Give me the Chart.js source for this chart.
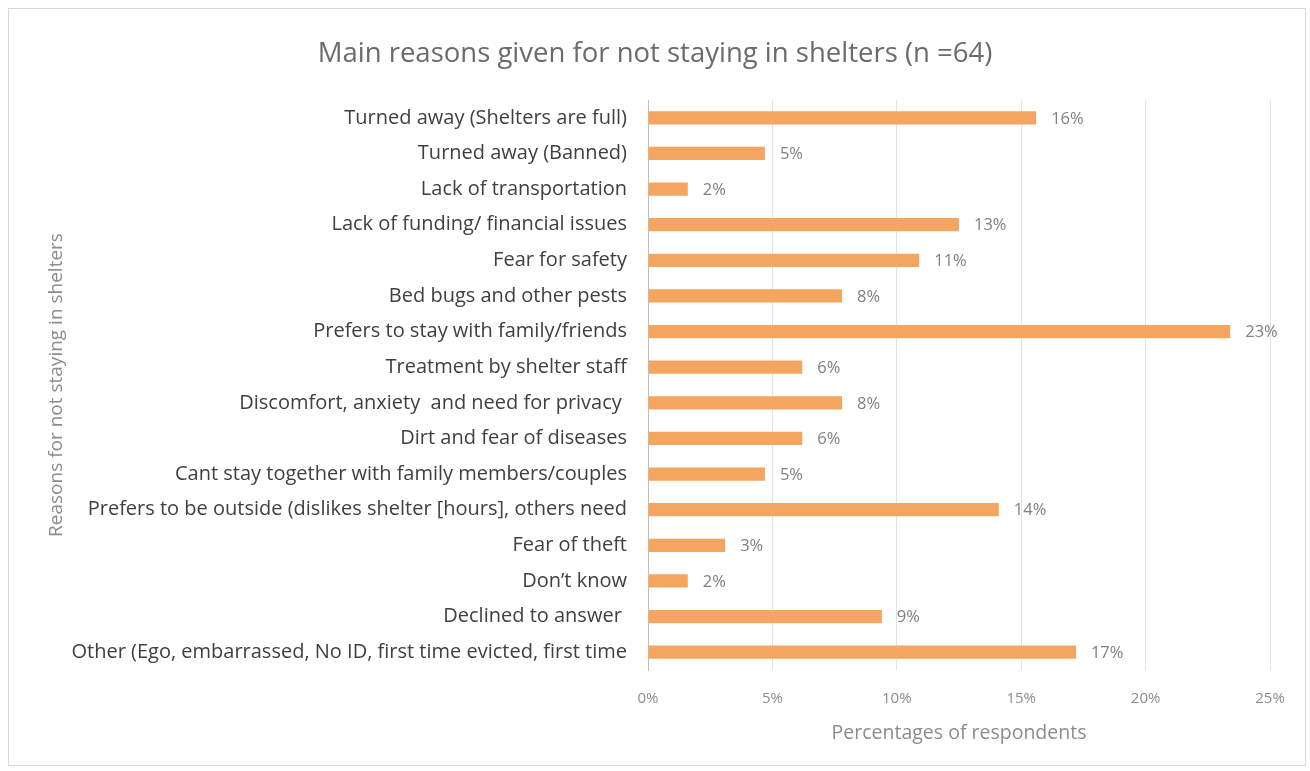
<!DOCTYPE html>
<html>
<head>
<meta charset="utf-8">
<script src="https://cdn.jsdelivr.net/npm/chart.js@4/dist/chart.umd.min.js"></script>
<style>
  html, body { margin: 0; padding: 0; background: #fff; }
  #frame { position: absolute; left: 8px; top: 8px; width: 1296px; height: 756px; border: 1px solid #d9d9d9; }
  #wrap { position: absolute; left: 0; top: 0; width: 1310px; height: 771px; }
</style>
</head>
<body>
<div id="frame"></div>
<div id="wrap"><canvas id="shelterChart"></canvas></div>
<script>
// categories and values (% of respondents, n = 64)
const reasons = [
  'Turned away (Shelters are full)',
  'Turned away (Banned)',
  'Lack of transportation',
  'Lack of funding/ financial issues',
  'Fear for safety',
  'Bed bugs and other pests',
  'Prefers to stay with family/friends',
  'Treatment by shelter staff',
  'Discomfort, anxiety  and need for privacy ',
  'Dirt and fear of diseases',
  'Cant stay together with family members/couples',
  'Prefers to be outside (dislikes shelter [hours], others need',
  'Fear of theft',
  'Don\u2019t know',
  'Declined to answer ',
  'Other (Ego, embarrassed, No ID, first time evicted, first time'
];
const percents = [15.6, 4.7, 1.6, 12.5, 10.9, 7.8, 23.4, 6.2, 7.8, 6.2, 4.7, 14.1, 3.1, 1.6, 9.4, 17.2];
const xTicks = [0, 5, 10, 15, 20, 25];

const fontName = '"Open Sans", Lato, sans-serif';

// draws the "16%" style labels just past the end of each bar
const valueLabels = {
  id: 'valueLabels',
  afterDatasetsDraw(chart) {
    const ctx = chart.ctx;
    const meta = chart.getDatasetMeta(0);
    ctx.save();
    ctx.font = '16.5px ' + fontName;
    ctx.fillStyle = '#808080';
    ctx.textAlign = 'left';
    ctx.textBaseline = 'middle';
    meta.data.forEach((bar, i) => {
      ctx.fillText(Math.round(percents[i]) + '%', bar.x + 15, bar.y + 1);
    });
    ctx.restore();
  }
};

const ctx = document.getElementById('shelterChart').getContext('2d');
new Chart(ctx, {
  type: 'bar',
  data: {
    labels: reasons,
    datasets: [{
      label: 'Percentages of respondents',
      data: percents,
      backgroundColor: '#F4A661',
      categoryPercentage: 1,
      barPercentage: 0.37
    }]
  },
  options: {
    indexAxis: 'y',
    responsive: true,
    maintainAspectRatio: false,
    animation: false,
    layout: { padding: { left: 40, right: 40, top: 0, bottom: 0 } },
    plugins: {
      legend: { display: false },
      tooltip: { enabled: false },
      title: {
        display: true,
        text: 'Main reasons given for not staying in shelters (n =64)',
        color: '#6b6b6b',
        font: { family: fontName, size: 27.5, weight: 'normal' },
        padding: { top: 38, bottom: 29 }
      }
    },
    scales: {
      x: {
        min: 0,
        max: 25,
        afterBuildTicks(scale) { scale.ticks = xTicks.map(v => ({ value: v })); },
        afterFit(scale) { scale.height = 101; },
        ticks: {
          color: '#8c8c8c',
          padding: 20,
          font: { family: fontName, size: 15 },
          callback: v => v + '%'
        },
        grid: { color: '#e3e3e3', drawTicks: false },
        border: { display: false },
        title: {
          display: true,
          text: 'Percentages of respondents',
          color: '#8c8c8c',
          font: { family: fontName, size: 19.5 },
          padding: { top: 0, bottom: 26 }
        }
      },
      y: {
        afterFit(scale) { scale.width = 608; },
        ticks: {
          color: '#404040',
          padding: 21,
          autoSkip: false,
          font: { family: fontName, size: 20 }
        },
        grid: { display: false, drawTicks: false },
        border: { display: true, color: '#bfbfbf' },
        title: {
          display: true,
          text: 'Reasons for not staying in shelters',
          color: '#8c8c8c',
          font: { family: fontName, size: 19 },
          padding: { top: 5, bottom: 0 }
        }
      }
    }
  },
  plugins: [valueLabels]
});
</script>
</body>
</html>
